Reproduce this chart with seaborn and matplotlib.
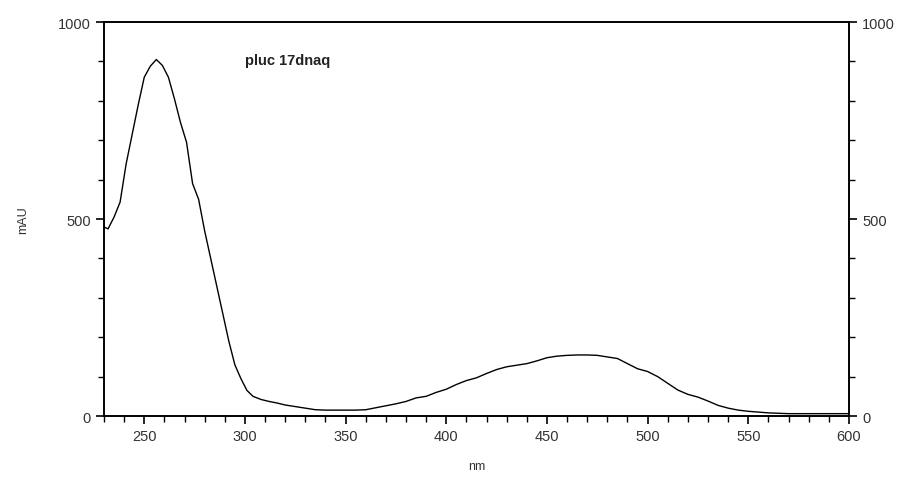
import numpy as np
import pandas as pd
import seaborn as sns
import matplotlib.pyplot as plt
from matplotlib.ticker import MultipleLocator

# ====================
# data
# ====================
wavelength = [230, 232, 235, 238, 241, 244, 247, 250, 253, 256, 259, 262, 265,
              268, 271, 274, 277, 280, 283, 286, 289, 292, 295, 298, 301, 304,
              308, 312, 316, 320, 325, 330, 335, 340, 345, 350, 355, 360, 365,
              370, 375, 380, 385, 390, 395, 400, 405, 410, 415, 420, 425, 430,
              435, 440, 445, 450, 455, 460, 465, 470, 475, 480, 485, 490, 495,
              500, 505, 510, 515, 520, 525, 530, 535, 540, 545, 550, 555, 560,
              565, 570, 580, 590, 600]
absorbance = [480, 475, 505, 543, 640, 715, 790, 860, 888, 905, 890, 860, 805,
              745, 695, 590, 550, 470, 400, 330, 260, 190, 130, 95, 65, 50,
              42, 37, 33, 28, 24, 20, 16, 15, 15, 15, 15, 16, 21,
              26, 31, 37, 46, 50, 60, 68, 80, 90, 97, 108, 118, 125,
              129, 133, 140, 148, 152, 154, 155, 155, 154, 150, 146, 133, 120,
              113, 100, 83, 66, 55, 48, 38, 27, 20, 15, 12, 10, 8,
              7, 6, 6, 6, 6]
sample_name = "pluc 17dnaq"

df = pd.DataFrame({"nm": wavelength, "mAU": absorbance})

sns.set_style("ticks")
plt.rcParams['font.family'] = ['Liberation Sans', 'DejaVu Sans']
plt.rcParams['text.color'] = '#222222'

fig = plt.figure(figsize=(8.98, 4.81), dpi=100)
ax = fig.add_axes([0.1158, 0.133, 0.8296, 0.819])
sns.lineplot(data=df, x="nm", y="mAU", ax=ax, color="black", linewidth=1.0)

ax.set_xlim(230, 600)
ax.set_ylim(0, 1000)
ax.xaxis.set_major_locator(MultipleLocator(50))
ax.xaxis.set_minor_locator(MultipleLocator(10))
ax.yaxis.set_major_locator(MultipleLocator(500))
ax.yaxis.set_minor_locator(MultipleLocator(100))
ax.tick_params(which="major", length=6, width=1.2, labelsize=10.5,
               colors="black", labelcolor="#333333", direction="out")
ax.tick_params(which="minor", length=4, width=1.0, colors="black", direction="out")
for s in ax.spines.values():
    s.set_linewidth(1.2)
    s.set_color("black")
    s.set_visible(True)

ax.set_xlabel("nm", fontsize=9, color="#333333", labelpad=12)
ax.set_ylabel("mAU", fontsize=9, color="#333333", labelpad=21)

# right axis copy
ax2 = ax.twinx()
ax2.set_ylim(0, 1000)
ax2.yaxis.set_major_locator(MultipleLocator(500))
ax2.yaxis.set_minor_locator(MultipleLocator(100))
ax2.tick_params(which="major", length=6, width=1.2, labelsize=10.5,
                colors="black", labelcolor="#333333", direction="out")
ax2.tick_params(which="minor", length=4, width=1.0, colors="black", direction="out")
for s in ax2.spines.values():
    s.set_linewidth(1.2)
    s.set_color("black")

ax.text(300, 905, sample_name, fontsize=10.5, fontweight="bold", va="center")

fig.savefig("out.png", dpi=100)
